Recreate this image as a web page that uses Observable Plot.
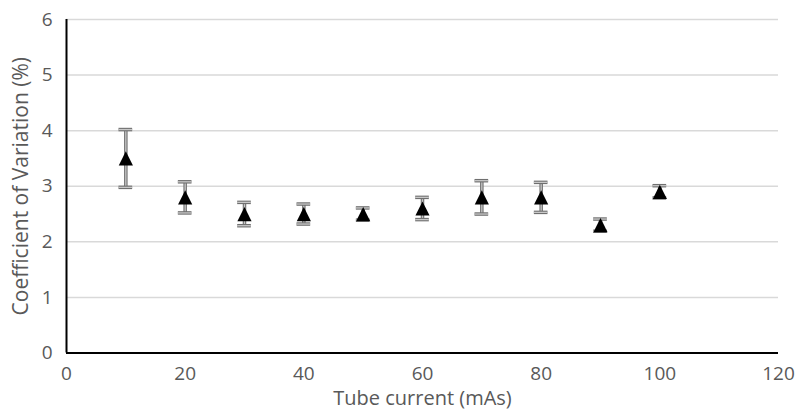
<!DOCTYPE html>
<html><head><meta charset="utf-8">
<script src="https://cdn.jsdelivr.net/npm/d3@7"></script>
<script src="https://cdn.jsdelivr.net/npm/@observablehq/plot@0.6"></script>
<style>
body{margin:0;background:#fff;}
svg{font-family:"Open Sans",sans-serif;}
</style>
</head><body><div id="chart"></div>
<script>
const current = [10,20,30,40,50,60,70,80,90,100];
const cv = [3.5,2.8,2.5,2.5,2.5,2.6,2.8,2.8,2.3,2.9];
const err = [0.52,0.28,0.21,0.18,0.11,0.2,0.3,0.27,0.11,0.11];
const xTicks = [0,20,40,60,80,100,120];
const yTicks = [0,1,2,3,4,5,6];

const data = current.map((x,i)=>({x, y:cv[i], lo:cv[i]-err[i], hi:cv[i]+err[i]}));
const capHalf = 1.15;
const caps = data.flatMap(d=>[{x:d.x,y:d.lo},{x:d.x,y:d.hi}]);

// Excel-style triangle marker: box-centred, width == height
const excelTriangle = {
  draw(ctx, size) {
    const s = Math.sqrt(size);
    ctx.moveTo(0, -s/2);
    ctx.lineTo(s/2, s/2);
    ctx.lineTo(-s/2, s/2);
    ctx.closePath();
  }
};

const chart = Plot.plot({
  width:797, height:410,
  marginLeft:66, marginRight:19, marginTop:19, marginBottom:57.5,
  style:{fontFamily:"Open Sans, sans-serif", color:"#595959", fontSize:"19px", background:"#fff"},
  x:{domain:[0,120]},
  y:{domain:[0,6]},
  marks:[
    Plot.gridY(yTicks.filter(t=>t>0), {stroke:"#d9d9d9", strokeOpacity:1, strokeWidth:1.5}),
    Plot.axisY({ticks:yTicks, tickFormat:d3.format("d"), tickSize:0, tickPadding:14, fontSize:19, fill:"#595959", label:null}),
    Plot.axisY({ticks:[], tickSize:0, fontSize:21, fill:"#595959", label:"Coefficient of Variation (%)", labelAnchor:"center", labelArrow:false, labelOffset:53}),
    Plot.axisX({ticks:xTicks, tickFormat:d3.format("d"), tickSize:0, tickPadding:13, fontSize:19, fill:"#595959", label:null}),
    Plot.axisX({ticks:[], tickSize:0, fontSize:20, fill:"#595959", label:"Tube current (mAs)", labelAnchor:"center", labelArrow:false, labelOffset:52}),
    Plot.ruleY([0], {stroke:"#000", strokeWidth:2}),
    Plot.ruleX([0], {stroke:"#000", strokeWidth:2}),
    Plot.ruleX(data, {x:"x", y1:"lo", y2:"hi", stroke:"#6f6f6f", strokeWidth:3.5}),
    Plot.ruleX(data, {x:"x", y1:"lo", y2:"hi", stroke:"#c8c8c8", strokeWidth:1.3}),
    Plot.ruleY(caps, {y:"y", x1:d=>d.x-capHalf, x2:d=>d.x+capHalf, stroke:"#6f6f6f", strokeWidth:3.5}),
    Plot.ruleY(caps, {y:"y", x1:d=>d.x-capHalf, x2:d=>d.x+capHalf, stroke:"#c8c8c8", strokeWidth:1.3}),
    Plot.dot(data, {x:"x", y:"y", symbol:excelTriangle, r:8, fill:"#000", stroke:"none"})
  ]
});
document.getElementById("chart").append(chart);
</script>
</body></html>
